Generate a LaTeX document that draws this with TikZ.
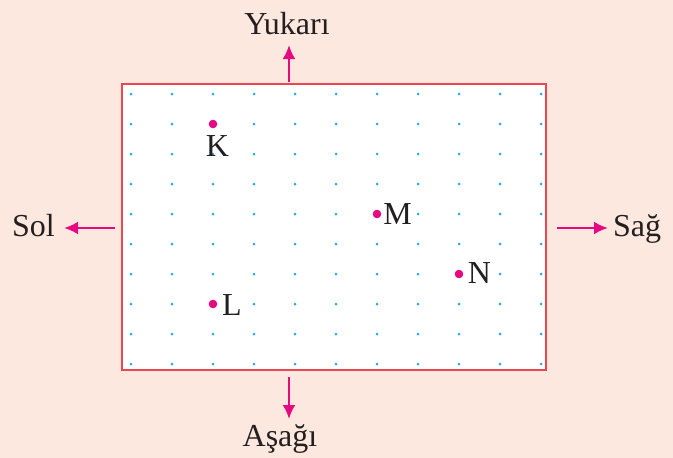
\documentclass[tikz,border=0pt]{standalone}
\usepackage{fontspec}
\setmainfont{Liberation Serif}
\usetikzlibrary{arrows.meta}
\definecolor{bgpink}{HTML}{FDE8E0}
\definecolor{framered}{HTML}{EF4550}
\definecolor{arrmag}{HTML}{E6097F}
\definecolor{dotcyan}{HTML}{2AAAE1}
\definecolor{inkgray}{HTML}{231F20}
\begin{document}
\begin{tikzpicture}[x=1pt,y=-1pt,>={Latex[length=14pt,width=13pt]},
  lbl/.style={anchor=base,inner sep=0pt,text=inkgray,font=\fontsize{32}{36}\selectfont},
  arr/.style={->,line width=2.6pt,draw=arrmag},
  pt/.style={fill=arrmag},
  griddot/.style={fill=dotcyan}]
\fill[bgpink] (0,0) rectangle (673,458);
\useasboundingbox (0,0) rectangle (673,458);
% plan
\fill[white] (122,84) rectangle (546,370);
\foreach \i in {0,...,10}
  \foreach \j in {0,...,9}
    \fill[griddot] (131+41*\i,94+30*\j) circle (1.5);
\draw[framered,line width=2pt] (122,84) rectangle (546,370);
% points
\fill[pt] (213,124) circle (4.3) coordinate (K);
\fill[pt] (377,214) circle (4.3) coordinate (M);
\fill[pt] (459,274) circle (4.3) coordinate (N);
\fill[pt] (213,304) circle (4.3) coordinate (L);
\node[lbl] (Klbl) at (217.5,156.5) {K};
\node[lbl] (Mlbl) at (397.5,224) {M};
\node[lbl] (Nlbl) at (479.5,283) {N};
\node[lbl] (Llbl) at (232,315) {L};
% directions
\node[lbl] (up) at (287,34) {Yukarı};
\node[lbl] (down) at (280,446.5) {Aşağı};
\node[lbl] (left) at (33.5,236.5) {Sol};
\node[lbl] (right) at (637,236.5) {Sağ};
\coordinate (upS) at (289,82);
\coordinate (upE) at (289,45);
\coordinate (downS) at (289,377);
\coordinate (downE) at (289,419);
\coordinate (leftS) at (115,228);
\coordinate (leftE) at (64,228);
\coordinate (rightS) at (557,228);
\coordinate (rightE) at (608,228);
\draw[arr] (upS) -- (upE);
\draw[arr] (downS) -- (downE);
\draw[arr] (leftS) -- (leftE);
\draw[arr] (rightS) -- (rightE);
\end{tikzpicture}
\end{document}
